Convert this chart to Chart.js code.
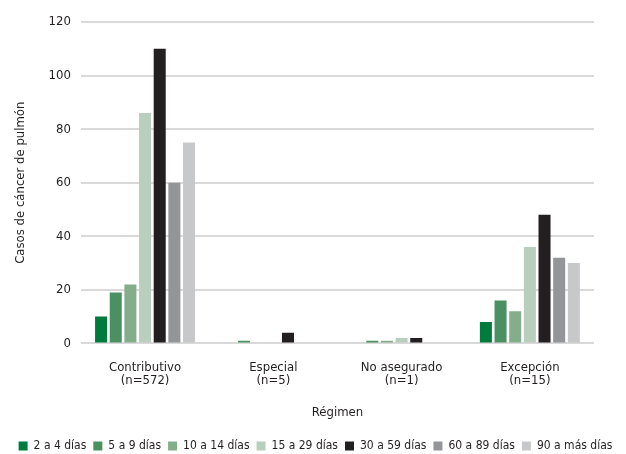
<!DOCTYPE html>
<html>
<head>
<meta charset="utf-8">
<script src="https://cdn.jsdelivr.net/npm/chart.js@4/dist/chart.umd.min.js"></script>
<style>
  html, body { margin: 0; padding: 0; background: #fff; }
  #wrap { width: 626px; height: 454px; }
</style>
</head>
<body>
<div id="wrap"><canvas id="chart"></canvas></div>
<script>
// --- Données ---
const regimenes = [['Contributivo', '(n=572)'], ['Especial', '(n=5)'], ['No asegurado', '(n=1)'], ['Excepción', '(n=15)']];
const dias2a4 = [10, 0, 0, 8];
const dias5a9 = [19, 1, 1, 16];
const dias10a14 = [22, 0, 1, 12];
const dias15a29 = [86, 0, 2, 36];
const dias30a59 = [110, 4, 2, 48];
const dias60a89 = [60, 0, 0, 32];
const dias90mas = [75, 0, 0, 30];
const yTicks = [0, 20, 40, 60, 80, 100, 120];

const font = "'Liberation Sans Narrow', 'DejaVu Sans Condensed', 'Liberation Sans', sans-serif";

function serie(label, data, color) {
    return { label: label, data: data, backgroundColor: color, borderWidth: 0, barPercentage: 0.82, categoryPercentage: 0.8 };
}

new Chart(document.getElementById('chart'), {
    type: 'bar',
    data: {
        labels: regimenes,
        datasets: [
            serie('2 a 4 días', dias2a4, '#007a3d'),
            serie('5 a 9 días', dias5a9, '#4a9060'),
            serie('10 a 14 días', dias10a14, '#84ae8b'),
            serie('15 a 29 días', dias15a29, '#b9cebc'),
            serie('30 a 59 días', dias30a59, '#231f20'),
            serie('60 a 89 días', dias60a89, '#939598'),
            serie('90 a más días', dias90mas, '#c7c8ca')
        ]
    },
    options: {
        responsive: true,
        maintainAspectRatio: false,
        animation: false,
        layout: { padding: { top: 22, right: 4, left: 9, bottom: -8 } },
        plugins: {
            legend: {
                position: 'bottom',
                labels: { boxWidth: 9, boxHeight: 9, padding: 7, color: '#231f20', font: { family: font, size: 12 } }
            },
            tooltip: { enabled: false }
        },
        scales: {
            x: {
                grid: { display: false },
                border: { display: false },
                ticks: { color: '#231f20', font: { family: font, size: 13, lineHeight: 1.0 }, padding: 10 },
                title: { display: true, text: 'Régimen', color: '#231f20', font: { family: font, size: 13 }, padding: { top: 7, bottom: 13 } }
            },
            y: {
                min: 0, max: 120,
                afterBuildTicks: axis => { axis.ticks = yTicks.map(v => ({ value: v })); },
                grid: { color: '#d9d9d9', lineWidth: 2, drawTicks: false },
                border: { display: false },
                ticks: { color: '#231f20', font: { family: font, size: 13 }, padding: 10 },
                title: { display: true, text: 'Casos de cáncer de pulmón', color: '#231f20', font: { family: font, size: 13 }, padding: { bottom: 10 } }
            },
            // espace vide à droite du graphique, comme sur la maquette
            marge: {
                position: 'right',
                display: true,
                grid: { display: false },
                border: { display: false },
                ticks: { display: false },
                afterFit: axis => { axis.width = 28; }
            }
        }
    }
});
</script>
</body>
</html>
